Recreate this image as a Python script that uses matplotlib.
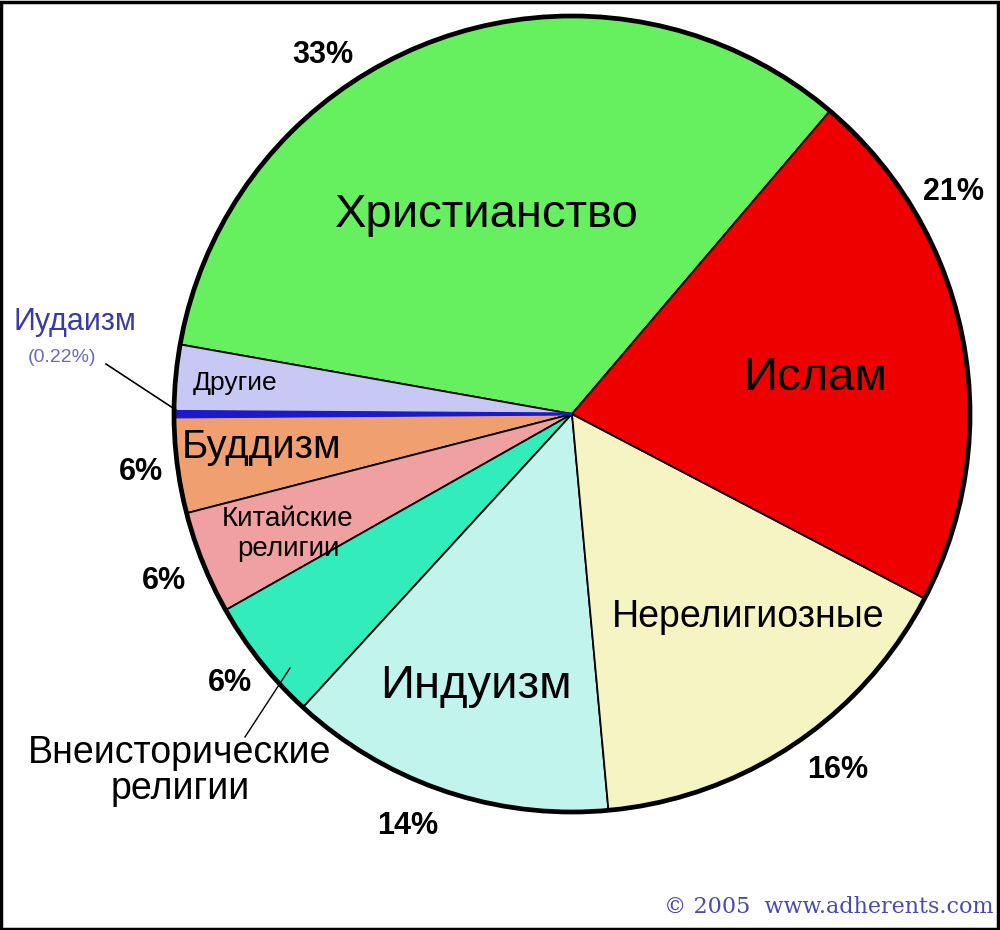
import matplotlib
matplotlib.use("Agg")
import matplotlib.pyplot as plt
from matplotlib.patches import Circle, Rectangle

# slice sizes (percent), counter-clockwise from Christianity
names = ["Христианство", "Другие", "Иудаизм", "Буддизм", "Китайские\nрелигии",
         "Внеисторические\nрелигии", "Индуизм", "Нерелигиозные", "Ислам"]
sizes = [33.5, 2.7, 0.22, 3.9, 4.2, 5.0, 13.3, 15.9, 21.5]
colors = ["#66f060", "#c8c8f4", "#1a1ac8", "#f0a070", "#f0a0a0",
          "#33ecbc", "#c2f4ee", "#f6f4c2", "#ee0000"]
pct_labels = ["33%", "21%", "16%", "14%", "6%", "6%", "6%"]

plt.rcParams['font.family'] = ['Liberation Sans', 'DejaVu Sans']

fig = plt.figure(figsize=(10, 9.3), dpi=100)
ax = fig.add_axes([0, 0, 1, 1])

cx, cy, r = 572, 516, 398
wedges, _ = ax.pie(sizes, colors=colors, startangle=49.6, counterclock=True,
                   center=(cx, cy), radius=r,
                   wedgeprops=dict(edgecolor='black', linewidth=1.3))
wedges[2].set_edgecolor(colors[2])
wedges[2].set_linewidth(2.2)
wedges[2].set_zorder(3)
ax.add_patch(Circle((cx, cy), r, fill=False, edgecolor='black', linewidth=3.4, zorder=5))
ax.set_xlim(0, 1000)
ax.set_ylim(0, 930)
ax.set_aspect('equal')
ax.axis('off')

def Y(py):
    return 930 - py

# labels inside the pie
ax.text(487, Y(215), names[0], fontsize=34, ha='center', va='center')
ax.text(815, Y(378), names[8], fontsize=34, ha='center', va='center')
ax.text(748, Y(617), names[7], fontsize=27, ha='center', va='center')
ax.text(476, Y(686), names[6], fontsize=34, ha='center', va='center')
ax.text(262, Y(447), names[3], fontsize=29, ha='center', va='center')
ax.text(235, Y(383), names[1], fontsize=19, ha='center', va='center')
ax.text(288, Y(534), names[4], fontsize=20, ha='center', va='center', linespacing=1.15)

# percentages
pct_pos = [(323, 55), (953, 192), (838, 770), (408, 826), (141, 472), (164, 581), (230, 683)]
for lab, (px, py) in zip(pct_labels, pct_pos):
    ax.text(px, Y(py), lab, fontsize=22, fontweight='bold', ha='center', va='center')

# outside labels with leader lines
ax.text(75, Y(322), names[2], fontsize=22, color='#3a3aa8', ha='center', va='center')
ax.text(62, Y(357), "(0.22%)", fontsize=14, color='#6a6ac0', ha='center', va='center')
ax.plot([106, 176], [Y(364), Y(410)], color='black', linewidth=1.2)

ax.text(180, Y(771), names[5], fontsize=27, ha='center', va='center', linespacing=1.0)
ax.plot([245, 290], [Y(737), Y(668)], color='black', linewidth=1.0)

ax.text(993, Y(907), "© 2005  www.adherents.com", fontsize=16, family='DejaVu Serif',
        color='#4a4ab0', ha='right', va='center')

ax.add_patch(Rectangle((1, 1), 997, 927, fill=False, edgecolor='black', linewidth=2.5))

fig.savefig("out.png", dpi=100, facecolor='white')
